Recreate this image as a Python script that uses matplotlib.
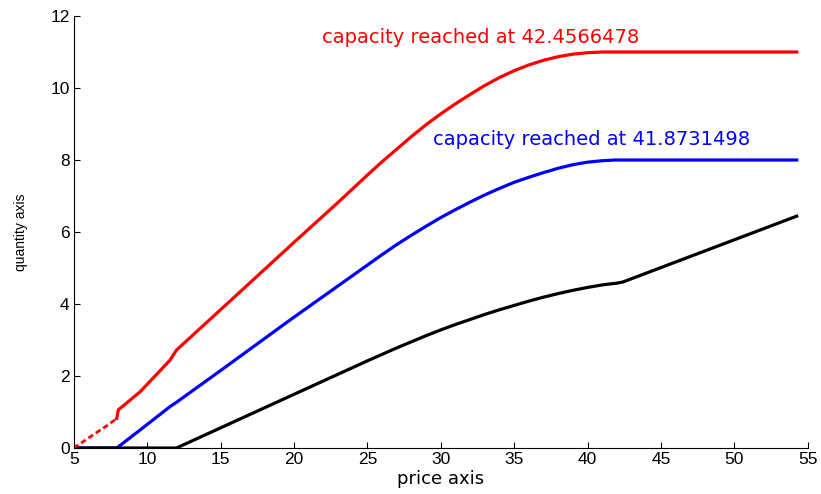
import matplotlib
matplotlib.use("Agg")
import matplotlib.pyplot as plt

plt.rcParams['font.family'] = ['Liberation Sans', 'DejaVu Sans']

# red curve (higher capacity): sparse start, then the main branch
red_low_x = [5.0, 5.8, 6.6, 7.3, 7.93]
red_low_y = [0.0, 0.22, 0.44, 0.63, 0.82]
red_x = [7.93, 8.04, 9.52, 11.56, 12.0, 15.0, 20.0, 22.0, 23.0, 24.0, 25.0, 26.0,
         27.0, 28.0, 29.0, 30.0, 31.0, 32.0, 33.0, 34.0, 35.0, 36.0, 37.0, 38.0,
         39.0, 40.0, 41.0, 42.46, 54.25]
red_y = [0.82, 1.06, 1.56, 2.44, 2.72, 3.84, 5.71, 6.45, 6.82, 7.20, 7.58, 7.95,
         8.30, 8.65, 8.98, 9.28, 9.56, 9.82, 10.07, 10.29, 10.48, 10.64, 10.77, 10.87,
         10.94, 10.98, 11.0, 11.0, 11.0]

# blue curve (lower capacity)
blue_x = [5.0, 7.93, 9.52, 11.56, 12.0, 15.0, 19.75, 25.0, 26.0, 27.0, 28.0, 29.0,
          30.0, 31.0, 32.0, 33.0, 34.0, 35.0, 36.0, 37.0, 38.0, 39.0, 40.0, 41.0,
          41.87, 54.25]
blue_y = [0.0, 0.0, 0.50, 1.15, 1.27, 2.15, 3.56, 5.08, 5.37, 5.65, 5.91, 6.16,
          6.40, 6.62, 6.83, 7.03, 7.21, 7.38, 7.52, 7.65, 7.77, 7.87, 7.94, 7.98,
          8.0, 8.0]

# black curve
black_x = [5.0, 12.0, 20.0, 25.0, 26.0, 27.0, 28.0, 29.0, 30.0, 31.0, 32.0, 33.0,
           34.0, 35.0, 36.0, 37.0, 38.0, 39.0, 40.0, 41.0, 42.0, 42.4, 54.25]
black_y = [0.0, 0.0, 1.49, 2.42, 2.60, 2.78, 2.95, 3.12, 3.28, 3.43, 3.57, 3.71,
           3.84, 3.96, 4.08, 4.19, 4.29, 4.38, 4.46, 4.53, 4.58, 4.61, 6.44]

red_label = "capacity reached at 42.4566478"
blue_label = "capacity reached at 41.8731498"

fig = plt.figure(figsize=(8.21, 4.94), dpi=100)
ax = fig.add_axes([0.0898, 0.0931, 0.894, 0.8745])

ax.plot(blue_x, blue_y, color='blue', lw=2.3)
ax.plot(black_x, black_y, color='black', lw=2.3)
ax.plot(red_low_x, red_low_y, color='red', lw=2.0, linestyle=(0, (2, 1.2)))
ax.plot(red_x, red_y, color='red', lw=2.3)

# annotations drawn a bit wider, like the original
ax.text(21.9, 11.39, red_label, color='red', fontsize=14, family='DejaVu Sans',
        ha='left', va='center')
ax.text(29.5, 8.56, blue_label, color='blue', fontsize=14, family='DejaVu Sans',
        ha='left', va='center')

ax.set_xlim(5, 55)
ax.set_ylim(0, 12)
ax.set_xticks(range(5, 56, 5))
ax.set_yticks(range(0, 13, 2))
ax.spines['top'].set_visible(False)
ax.spines['right'].set_visible(False)
ax.tick_params(direction='in', length=4, labelsize=12.5, pad=3)
ax.set_xlabel("price axis", fontsize=13, family='DejaVu Sans', labelpad=2)
ax.set_ylabel("quantity axis", fontsize=10, labelpad=16)

plt.savefig("out.png", dpi=100)
